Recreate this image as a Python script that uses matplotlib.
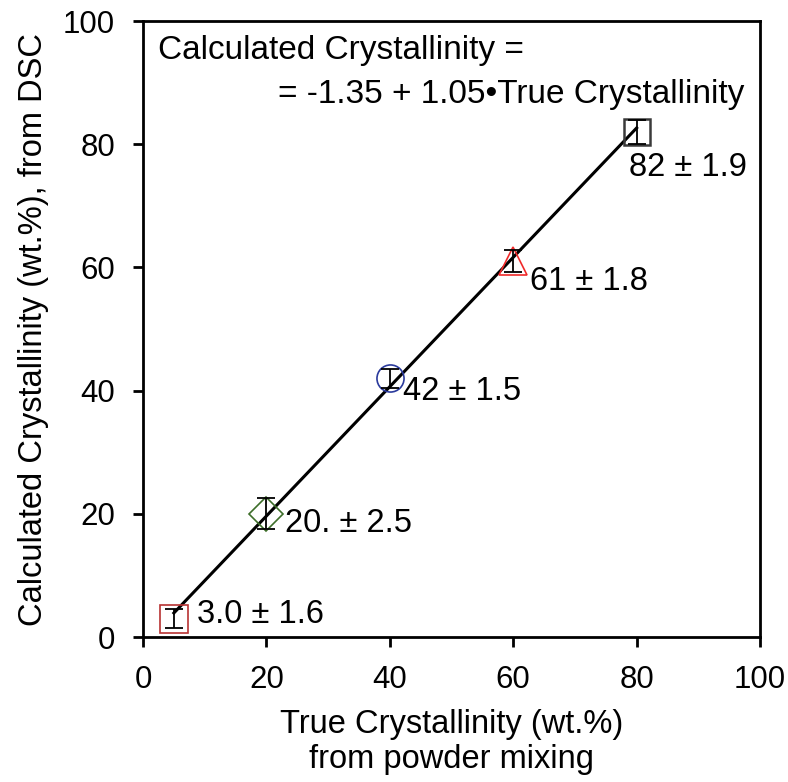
import numpy as np
import matplotlib.pyplot as plt

plt.rcParams['font.family'] = ['Liberation Sans', 'DejaVu Sans']

true_cryst = [5, 20, 40, 60, 80]
calc_cryst = [3.0, 20.0, 42.0, 61.0, 82.0]
errors = [1.6, 2.5, 1.5, 1.8, 1.9]
labels = ["3.0 \u00b1 1.6", "20. \u00b1 2.5", "42 \u00b1 1.5", "61 \u00b1 1.8", "82 \u00b1 1.9"]
markers = ['s', 'D', 'o', '^', 's']
colors = ['#b83232', '#3d6e2a', '#2a3a9c', '#f02a2a', '#3a3a3a']
sizes = [20, 17, 19.5, 19.5, 18.5]
edge_widths = [1.2, 1.2, 1.2, 1.2, 1.8]
label_pos = [(8.75, 3.6), (23.0, 18.5), (42.1, 39.8), (62.7, 57.8), (78.8, 76.2)]

intercept = -1.35
slope = 1.05

fig = plt.figure(figsize=(7.88, 7.82), dpi=100)
ax = fig.add_axes([0.1815, 0.1854, 0.783, 0.7876])

# fit line over the data range
fit_x = np.array([true_cryst[0], true_cryst[-1]])
ax.plot(fit_x, intercept + slope * fit_x, color='k', linewidth=2.2, zorder=2)

for x, y, e, m, c, s, ew, lab, pos in zip(true_cryst, calc_cryst, errors, markers, colors,
                                          sizes, edge_widths, labels, label_pos):
    ax.plot(x, y, marker=m, markersize=s, markerfacecolor='none',
            markeredgecolor=c, markeredgewidth=ew, linestyle='none', zorder=3)
    ax.errorbar(x, y, yerr=e, fmt='none', ecolor='k', elinewidth=1.3,
                capsize=6.5, capthick=1.3, zorder=4)
    ax.text(pos[0], pos[1], lab, fontsize=23.5, va='center', ha='left')

ax.text(0.024, 0.953, "Calculated Crystallinity =", transform=ax.transAxes,
        fontsize=24, va='center', ha='left')
ax.text(0.974, 0.881, "= -1.35 + 1.05\u2022True Crystallinity", transform=ax.transAxes,
        fontsize=24, va='center', ha='right')

ax.set_xlim(0, 100)
ax.set_ylim(0, 100)
ax.set_xticks([0, 20, 40, 60, 80, 100])
ax.set_yticks([0, 20, 40, 60, 80, 100])
ax.tick_params(axis='both', labelsize=22.5, direction='out', length=7, width=2,
               pad=13, top=False, right=False)
for spine in ax.spines.values():
    spine.set_linewidth(2)

ax.set_xlabel("True Crystallinity (wt.%)\nfrom powder mixing", fontsize=23.5, labelpad=10,
              linespacing=1.2)
ax.set_ylabel("Calculated Crystallinity (wt.%), from DSC", fontsize=23.5, labelpad=10)

fig.savefig("out.png", dpi=100)
